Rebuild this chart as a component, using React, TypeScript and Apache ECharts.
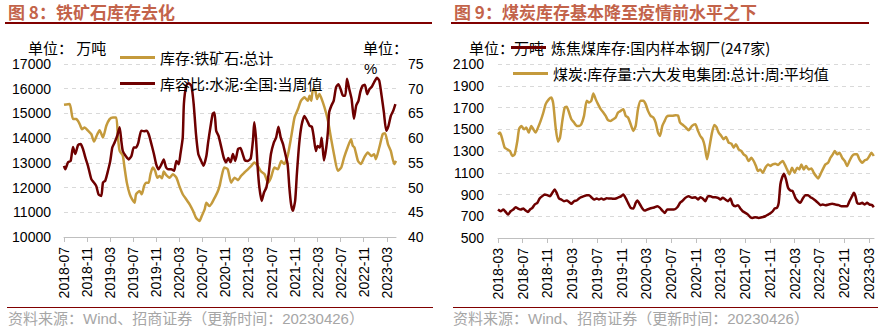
import React, { useEffect, useRef } from 'react';
import * as echarts from 'echarts';

// ---------- text ----------
const leftTitle = '图 8：铁矿石库存去化';
const rightTitle = '图 9：煤炭库存基本降至疫情前水平之下';
const sourceText = '资料来源：Wind、招商证券（更新时间：20230426）';
const ironName = '库存:铁矿石:总计';
const cementName = '库容比:水泥:全国:当周值';
const cokingName = '炼焦煤库存:国内样本钢厂(247家)';
const coalName = '煤炭:库存量:六大发电集团:总计:周:平均值';

// ---------- tick labels (every 4 months) ----------
const leftTickLabels = ['2018-07', '2018-11', '2019-03', '2019-07', '2019-11', '2020-03', '2020-07', '2020-11', '2021-03', '2021-07', '2021-11', '2022-03', '2022-07', '2022-11', '2023-03'];
const rightTickLabels = ['2018-03', '2018-07', '2018-11', '2019-03', '2019-07', '2019-11', '2020-03', '2020-07', '2020-11', '2021-03', '2021-07', '2021-11', '2022-03', '2022-07', '2022-11', '2023-03'];

// ---------- data: [months since first tick label, value] ----------
const ironStock: [number, number][] = [
  [0, 15350], [0.98, 15380], [1.56, 14770], [2.14, 14770], [2.72, 14570], [3.12, 14360], [3.58, 14430], [4.16, 14300], [4.74, 14160], [5.2, 13860],
  [5.78, 14160], [6.18, 14320], [6.76, 14030], [7.34, 14500], [7.92, 14770], [8.5, 14840], [9.07, 14840], [9.36, 14030], [9.65, 13490], [10.2, 13290],
  [10.5, 12810], [10.9, 12200], [11.4, 11730], [11.8, 11530], [12.25, 11390], [12.5, 11730], [13.1, 11860], [13.5, 11730], [13.9, 12070], [14.3, 12200],
  [14.7, 12200], [15.0, 12540], [15.4, 12810], [15.8, 12680], [16.2, 12400], [16.6, 12470], [17.0, 12380], [17.3, 12650], [17.7, 12510], [18.3, 12400],
  [18.9, 12540], [19.5, 12400], [20.0, 12070], [20.6, 11730], [21.2, 11530], [21.8, 11320], [22.4, 11050], [22.9, 10780], [23.5, 10650], [23.9, 10850],
  [24.4, 11120], [24.7, 11390], [25.2, 11250], [25.6, 11350], [26.1, 11570], [26.6, 11800], [27.0, 12070], [27.3, 12400], [27.8, 12810], [28.4, 12740],
  [29.0, 12200], [29.6, 12400], [30.2, 12300], [30.7, 12470], [31.3, 12610], [31.9, 12740], [32.5, 12880], [33.0, 13010], [33.6, 12880], [34.2, 12650],
  [34.8, 12540], [35.4, 12200], [35.9, 12400], [36.5, 12810], [37.1, 12740], [37.7, 13080], [38.2, 12950], [38.8, 13280], [39.4, 14030], [40.0, 14840],
  [40.6, 15180], [41.1, 15510], [41.7, 15650], [42.3, 15510], [42.6, 15720], [42.9, 15510], [43.2, 15990], [43.6, 15920], [43.9, 15580], [44.3, 15790],
  [44.6, 15650], [45.2, 15240], [45.8, 14700], [46.3, 14030], [46.9, 13280], [47.5, 12680], [48.1, 12810], [48.6, 13220], [49.2, 13620], [49.8, 13960],
  [50.1, 13690], [50.4, 13620], [51.0, 13080], [51.5, 12950], [52.1, 13220], [52.7, 13420], [53.3, 13280], [53.8, 13350], [54.1, 13150], [54.7, 13620],
  [55.3, 14170], [55.7, 14200], [56.2, 13760], [56.7, 13480], [57.3, 12950], [57.6, 13080],
];

const cementRatio: [number, number][] = [
  [0, 54.4], [0.23, 53.7], [0.69, 55.1], [1.16, 55.4], [1.56, 58.2], [1.96, 56.8], [2.43, 58.6], [2.89, 58.8], [3.29, 57.8], [3.7, 56.1],
  [4.16, 54.4], [4.74, 51.7], [5.2, 51.0], [5.6, 50.3], [6.0, 48.6], [6.47, 48.3], [6.76, 51.0], [7.16, 51.4], [7.63, 53.4], [8.03, 55.4],
  [8.38, 58.1], [8.78, 59.1], [9.24, 60.5], [9.65, 62.2], [9.94, 59.5], [10.2, 57.4], [10.7, 56.4], [11.2, 55.7], [11.7, 56.4], [12.1, 58.1],
  [12.5, 58.1], [12.9, 59.1], [13.4, 61.5], [13.9, 61.4], [14.3, 61.5], [14.7, 60.8], [15.1, 59.1], [15.6, 56.8], [16.0, 54.7], [16.4, 53.7],
  [16.9, 54.7], [17.3, 55.7], [17.7, 54.1], [18.1, 53.7], [18.6, 53.7], [19.1, 53.4], [19.5, 55.4], [19.9, 54.7], [20.2, 56.8], [20.6, 60.1],
  [20.8, 66.9], [21.2, 70.6], [21.6, 71.1], [22.1, 70.6], [22.5, 66.9], [22.9, 60.8], [23.3, 56.8], [23.8, 55.4], [24.2, 54.4], [24.7, 56.4],
  [25.0, 59.1], [25.4, 62.2], [25.8, 64.9], [26.1, 65.2], [26.4, 61.5], [26.8, 60.5], [27.3, 58.1], [27.7, 56.1], [28.1, 55.1], [28.5, 56.0],
  [28.9, 55.1], [29.3, 56.8], [29.7, 55.4], [30.2, 57.8], [30.6, 58.0], [31.0, 56.8], [31.4, 55.5], [31.9, 55.4], [32.4, 55.9], [32.8, 59.8],
  [33.0, 63.2], [33.3, 60.1], [33.6, 54.1], [33.9, 50.0], [34.3, 47.3], [34.7, 49.0], [35.1, 50.0], [35.5, 52.7], [35.9, 56.8], [36.4, 59.1],
  [36.8, 60.1], [37.2, 62.3], [37.6, 60.1], [38.0, 58.8], [38.4, 56.8], [38.8, 54.7], [39.1, 50.0], [39.4, 46.6], [39.7, 45.3], [40.1, 47.3],
  [40.4, 52.7], [40.8, 58.8], [41.2, 62.5], [41.7, 64.5], [42.2, 63.5], [42.6, 62.5], [43.0, 62.3], [43.3, 60.5], [43.7, 57.4], [44.0, 58.4],
  [44.4, 58.1], [44.7, 60.1], [45.1, 55.5], [45.5, 58.1], [45.8, 61.5], [46.0, 65.2], [46.4, 66.6], [46.8, 67.6], [47.2, 70.3], [47.6, 70.9],
  [48.0, 69.9], [48.4, 68.6], [48.8, 68.6], [49.1, 72.0], [49.5, 69.9], [49.9, 67.9], [50.3, 63.9], [50.7, 66.6], [51.1, 67.6], [51.4, 69.3],
  [51.8, 70.6], [52.2, 70.8], [52.6, 68.9], [53.0, 69.9], [53.4, 70.4], [53.8, 71.3], [54.3, 72.2], [54.7, 71.6], [55.1, 68.6], [55.5, 65.2],
  [55.9, 61.5], [56.3, 62.5], [56.7, 64.5], [57.1, 65.5], [57.5, 66.9],
];

const coalStock: [number, number][] = [
  [0, 1454], [0.32, 1469], [0.7, 1408], [1.08, 1331], [1.51, 1315], [1.94, 1300], [2.32, 1254], [2.7, 1269], [3.13, 1392], [3.4, 1500],
  [3.78, 1531], [4.21, 1500], [4.58, 1515], [4.96, 1469], [5.39, 1531], [5.72, 1500], [6.09, 1469], [6.47, 1515], [6.9, 1577], [7.34, 1654],
  [7.71, 1731], [8.25, 1777], [8.63, 1792], [8.95, 1731], [9.33, 1515], [9.71, 1386], [10.03, 1423], [10.41, 1577], [10.79, 1700], [11.11, 1706],
  [11.49, 1654], [11.87, 1592], [12.3, 1562], [12.73, 1531], [13.11, 1531], [13.48, 1546], [13.92, 1623], [14.35, 1762], [14.72, 1746], [15.1, 1762],
  [15.43, 1829], [15.8, 1777], [16.18, 1731], [16.61, 1685], [17.04, 1654], [17.42, 1623], [17.8, 1583], [18.23, 1577], [18.66, 1592], [19.04, 1608],
  [19.42, 1654], [19.85, 1669], [20.28, 1685], [20.66, 1623], [21.04, 1608], [21.47, 1546], [21.9, 1485], [22.28, 1531], [22.65, 1685], [23.09, 1762],
  [23.52, 1762], [23.89, 1731], [24.27, 1669], [24.7, 1623], [25.13, 1608], [25.51, 1562], [25.89, 1469], [26.21, 1438], [26.59, 1531], [26.97, 1577],
  [27.29, 1615], [27.67, 1623], [28.21, 1623], [28.75, 1629], [29.13, 1626], [29.45, 1562], [29.77, 1546], [30.31, 1521], [30.85, 1491], [31.39, 1531],
  [31.93, 1546], [32.36, 1485], [32.74, 1438], [33.12, 1408], [33.44, 1346], [33.82, 1223], [34.2, 1331], [34.63, 1469], [35.0, 1540], [35.33, 1521],
  [35.71, 1469], [36.14, 1438], [36.51, 1408], [36.89, 1429], [37.32, 1377], [37.76, 1368], [38.13, 1331], [38.51, 1362], [38.94, 1315], [39.37, 1300],
  [39.75, 1269], [40.13, 1254], [40.56, 1208], [40.99, 1238], [41.37, 1208], [41.74, 1162], [42.07, 1115], [42.45, 1131], [42.83, 1100], [43.26, 1146],
  [43.69, 1177], [44.07, 1162], [44.45, 1177], [44.88, 1183], [45.31, 1171], [45.69, 1192], [46.07, 1208], [46.39, 1177], [46.77, 1131], [47.15, 1085],
  [47.58, 1146], [48.01, 1100], [48.39, 1146], [48.76, 1131], [49.09, 1177], [49.47, 1131], [49.85, 1162], [50.28, 1131], [50.71, 1140], [51.09, 1100],
  [51.47, 1069], [51.79, 1048], [52.17, 1085], [52.55, 1131], [52.98, 1177], [53.41, 1192], [53.79, 1238], [54.17, 1269], [54.49, 1300], [54.87, 1269],
  [55.25, 1285], [55.68, 1238], [56.11, 1208], [56.49, 1162], [56.87, 1208], [57.3, 1254], [57.73, 1269], [58.1, 1269], [58.48, 1223], [58.91, 1192],
  [59.35, 1215], [59.72, 1223], [60.1, 1254], [60.42, 1285], [60.8, 1254],
];

const cokingStock: [number, number][] = [
  [0, 762], [0.43, 746], [0.86, 762], [1.24, 740], [1.62, 715], [2.05, 746], [2.48, 762], [2.86, 783], [3.24, 771], [3.67, 762],
  [4.1, 771], [4.48, 752], [4.85, 740], [5.18, 762], [5.56, 777], [5.93, 808], [6.36, 823], [6.74, 863], [7.17, 885], [7.55, 900],
  [7.98, 894], [8.41, 885], [8.79, 915], [9.17, 946], [9.49, 915], [9.87, 863], [10.25, 854], [10.68, 838], [11.11, 845], [11.49, 832],
  [11.87, 814], [12.3, 838], [12.73, 845], [13.11, 863], [13.48, 875], [13.92, 885], [14.35, 894], [14.72, 894], [15.1, 875], [15.53, 854],
  [15.97, 863], [16.34, 854], [16.72, 863], [17.15, 854], [17.58, 866], [17.96, 863], [18.34, 863], [18.77, 860], [19.2, 866], [19.58, 875],
  [19.96, 885], [20.28, 900], [20.66, 866], [21.04, 823], [21.47, 777], [21.9, 771], [22.28, 823], [22.55, 845], [22.98, 808], [23.36, 771],
  [23.73, 752], [24.16, 762], [24.6, 771], [24.97, 777], [25.35, 783], [25.78, 792], [26.21, 777], [26.59, 752], [26.97, 731], [27.4, 762],
  [27.94, 762], [28.48, 762], [29.02, 783], [29.45, 823], [29.77, 838], [30.31, 869], [30.85, 885], [31.39, 869], [31.93, 875], [32.36, 854],
  [32.74, 875], [33.12, 863], [33.55, 838], [33.98, 885], [34.36, 885], [34.74, 875], [35.17, 875], [35.6, 869], [35.98, 854], [36.35, 869],
  [36.79, 854], [37.22, 838], [37.6, 863], [37.97, 808], [38.4, 792], [38.83, 802], [39.21, 771], [39.59, 746], [40.02, 731], [40.45, 715],
  [40.83, 691], [41.2, 685], [41.63, 691], [42.17, 685], [42.71, 691], [43.26, 700], [43.69, 715], [44.07, 728], [44.45, 746], [44.77, 771],
  [45.15, 777], [45.42, 823], [45.69, 992], [45.96, 1054], [46.28, 1091], [46.61, 1038], [46.93, 962], [47.31, 937], [47.68, 931], [48.12, 869],
  [48.55, 838], [48.93, 823], [49.31, 863], [49.74, 894], [50.17, 894], [50.55, 875], [50.93, 863], [51.36, 845], [51.79, 823], [52.17, 802],
  [52.55, 808], [52.98, 802], [53.52, 808], [54.06, 814], [54.6, 808], [55.14, 802], [55.57, 792], [56.11, 792], [56.49, 792], [56.87, 838],
  [57.3, 885], [57.57, 915], [57.84, 885], [58.11, 823], [58.49, 814], [58.92, 823], [59.35, 808], [59.72, 823], [60.1, 808], [60.53, 802],
  [60.8, 783],
];

// ---------- style ----------
const GOLD = '#C49A3C';
const DARK = '#6E0000';
const TITLE_COLOR = '#C3634A';
const RULE_COLOR = '#800000';
const NUM_FONT = '"Liberation Sans", Arial, "Noto Sans CJK SC", sans-serif';
const CJK_FONT = '"Noto Sans CJK SC", sans-serif';

function xAxisFor(gridIndex: number, max: number, labels: string[]) {
  const ticks = labels.map((_, i) => i * 4);
  return {
    type: 'value',
    gridIndex,
    min: 0,
    max,
    interval: 4,
    splitLine: { show: false },
    axisLine: { show: true, lineStyle: { color: '#BFBFBF', width: 1 } },
    axisTick: { show: true, length: 5, lineStyle: { color: '#BFBFBF' }, customValues: ticks },
    axisLabel: {
      customValues: ticks,
      rotate: 90,
      margin: 10,
      fontSize: 14,
      color: '#000',
      fontFamily: NUM_FONT,
      formatter: (v: number) => labels[Math.round(v / 4)] ?? '',
    },
  };
}

function yAxisFor(gridIndex: number, min: number, max: number, interval: number, position: string, split: boolean, margin: number) {
  return {
    type: 'value',
    gridIndex,
    position,
    min,
    max,
    interval,
    axisLine: { show: false },
    axisTick: { show: false },
    splitLine: { show: split, lineStyle: { color: '#D9D9D9', type: [4, 4], width: 1 } },
    axisLabel: { fontSize: 14, color: '#000', fontFamily: NUM_FONT, margin, formatter: (v: number) => String(v) },
  };
}

function legendFor(name: string, left: number, top: number) {
  return {
    data: [name],
    left,
    top,
    padding: 0,
    icon: 'rect',
    itemWidth: 35,
    itemHeight: 3,
    itemGap: 0,
    selectedMode: false,
    textStyle: { fontSize: 15, color: '#000', fontFamily: CJK_FONT, padding: [0, 0, 0, 0] },
  };
}

function lineSeries(name: string, data: [number, number][], color: string, xAxisIndex: number, yAxisIndex: number) {
  return {
    type: 'line',
    name,
    data,
    xAxisIndex,
    yAxisIndex,
    showSymbol: false,
    symbol: 'none',
    smooth: 0.2,
    lineStyle: { color, width: 2.5 },
    itemStyle: { color },
    emphasis: { disabled: true },
  };
}

function txt(text: string, x: number, y: number, opts: any = {}) {
  return {
    type: 'text',
    x,
    y,
    silent: true,
    style: {
      text,
      fontSize: opts.fontSize ?? 15,
      fontWeight: opts.fontWeight ?? 'normal',
      fontFamily: opts.fontFamily ?? CJK_FONT,
      fill: opts.fill ?? '#000',
      textVerticalAlign: 'middle',
      textAlign: 'left',
    },
  };
}

function rule(x1: number, x2: number, y: number, width: number) {
  return {
    type: 'line',
    silent: true,
    shape: { x1, y1: y, x2, y2: y },
    style: { stroke: RULE_COLOR, lineWidth: width },
  };
}

export default function App() {
  const ref = useRef<HTMLDivElement>(null);

  useEffect(() => {
    if (!ref.current) return;
    const chart = echarts.init(ref.current, null, { renderer: 'svg' });
    chart.setOption({
      animation: false,
      backgroundColor: '#FFFFFF',
      grid: [
        { left: 64, right: 882 - 396, top: 64, bottom: 327 - 237 },
        { left: 498, right: 882 - 874, top: 64, bottom: 327 - 238 },
      ],
      xAxis: [xAxisFor(0, 57.6, leftTickLabels), xAxisFor(1, 60.84, rightTickLabels)],
      yAxis: [
        yAxisFor(0, 10000, 17000, 1000, 'left', true, 13),
        yAxisFor(0, 40, 75, 5, 'right', false, 12),
        yAxisFor(1, 500, 2100, 200, 'left', true, 14),
      ],
      legend: [
        legendFor(ironName, 120, 50),
        legendFor(cementName, 120, 76),
        legendFor(cokingName, 511, 40),
        legendFor(coalName, 513, 66),
      ],
      series: [
        lineSeries(ironName, ironStock, GOLD, 0, 0),
        lineSeries(cementName, cementRatio, DARK, 0, 1),
        lineSeries(coalName, coalStock, GOLD, 1, 2),
        lineSeries(cokingName, cokingStock, DARK, 1, 2),
      ],
      graphic: [
        txt(leftTitle, 8, 11, { fontSize: 17, fontWeight: 'bold', fill: TITLE_COLOR }),
        txt(rightTitle, 454, 11, { fontSize: 17, fontWeight: 'bold', fill: TITLE_COLOR }),
        rule(5, 432, 23, 2),
        rule(451, 869, 23, 2),
        rule(7, 433, 307.5, 1),
        rule(453, 878, 307.5, 1),
        txt(sourceText, 8, 318, { fontSize: 15, fill: '#A6A6A6', fontFamily: NUM_FONT }),
        txt(sourceText, 453, 318, { fontSize: 15, fill: '#A6A6A6', fontFamily: NUM_FONT }),
        txt('单位： 万吨', 28, 47),
        txt('单位：', 363, 47),
        txt('%', 364, 68, { fontFamily: NUM_FONT }),
        txt('单位：万吨', 469, 47),
      ],
    });
    return () => chart.dispose();
  }, []);

  return <div ref={ref} style={{ position: 'fixed', left: 0, top: 0, width: 882, height: 327, background: '#fff' }} />;
}
